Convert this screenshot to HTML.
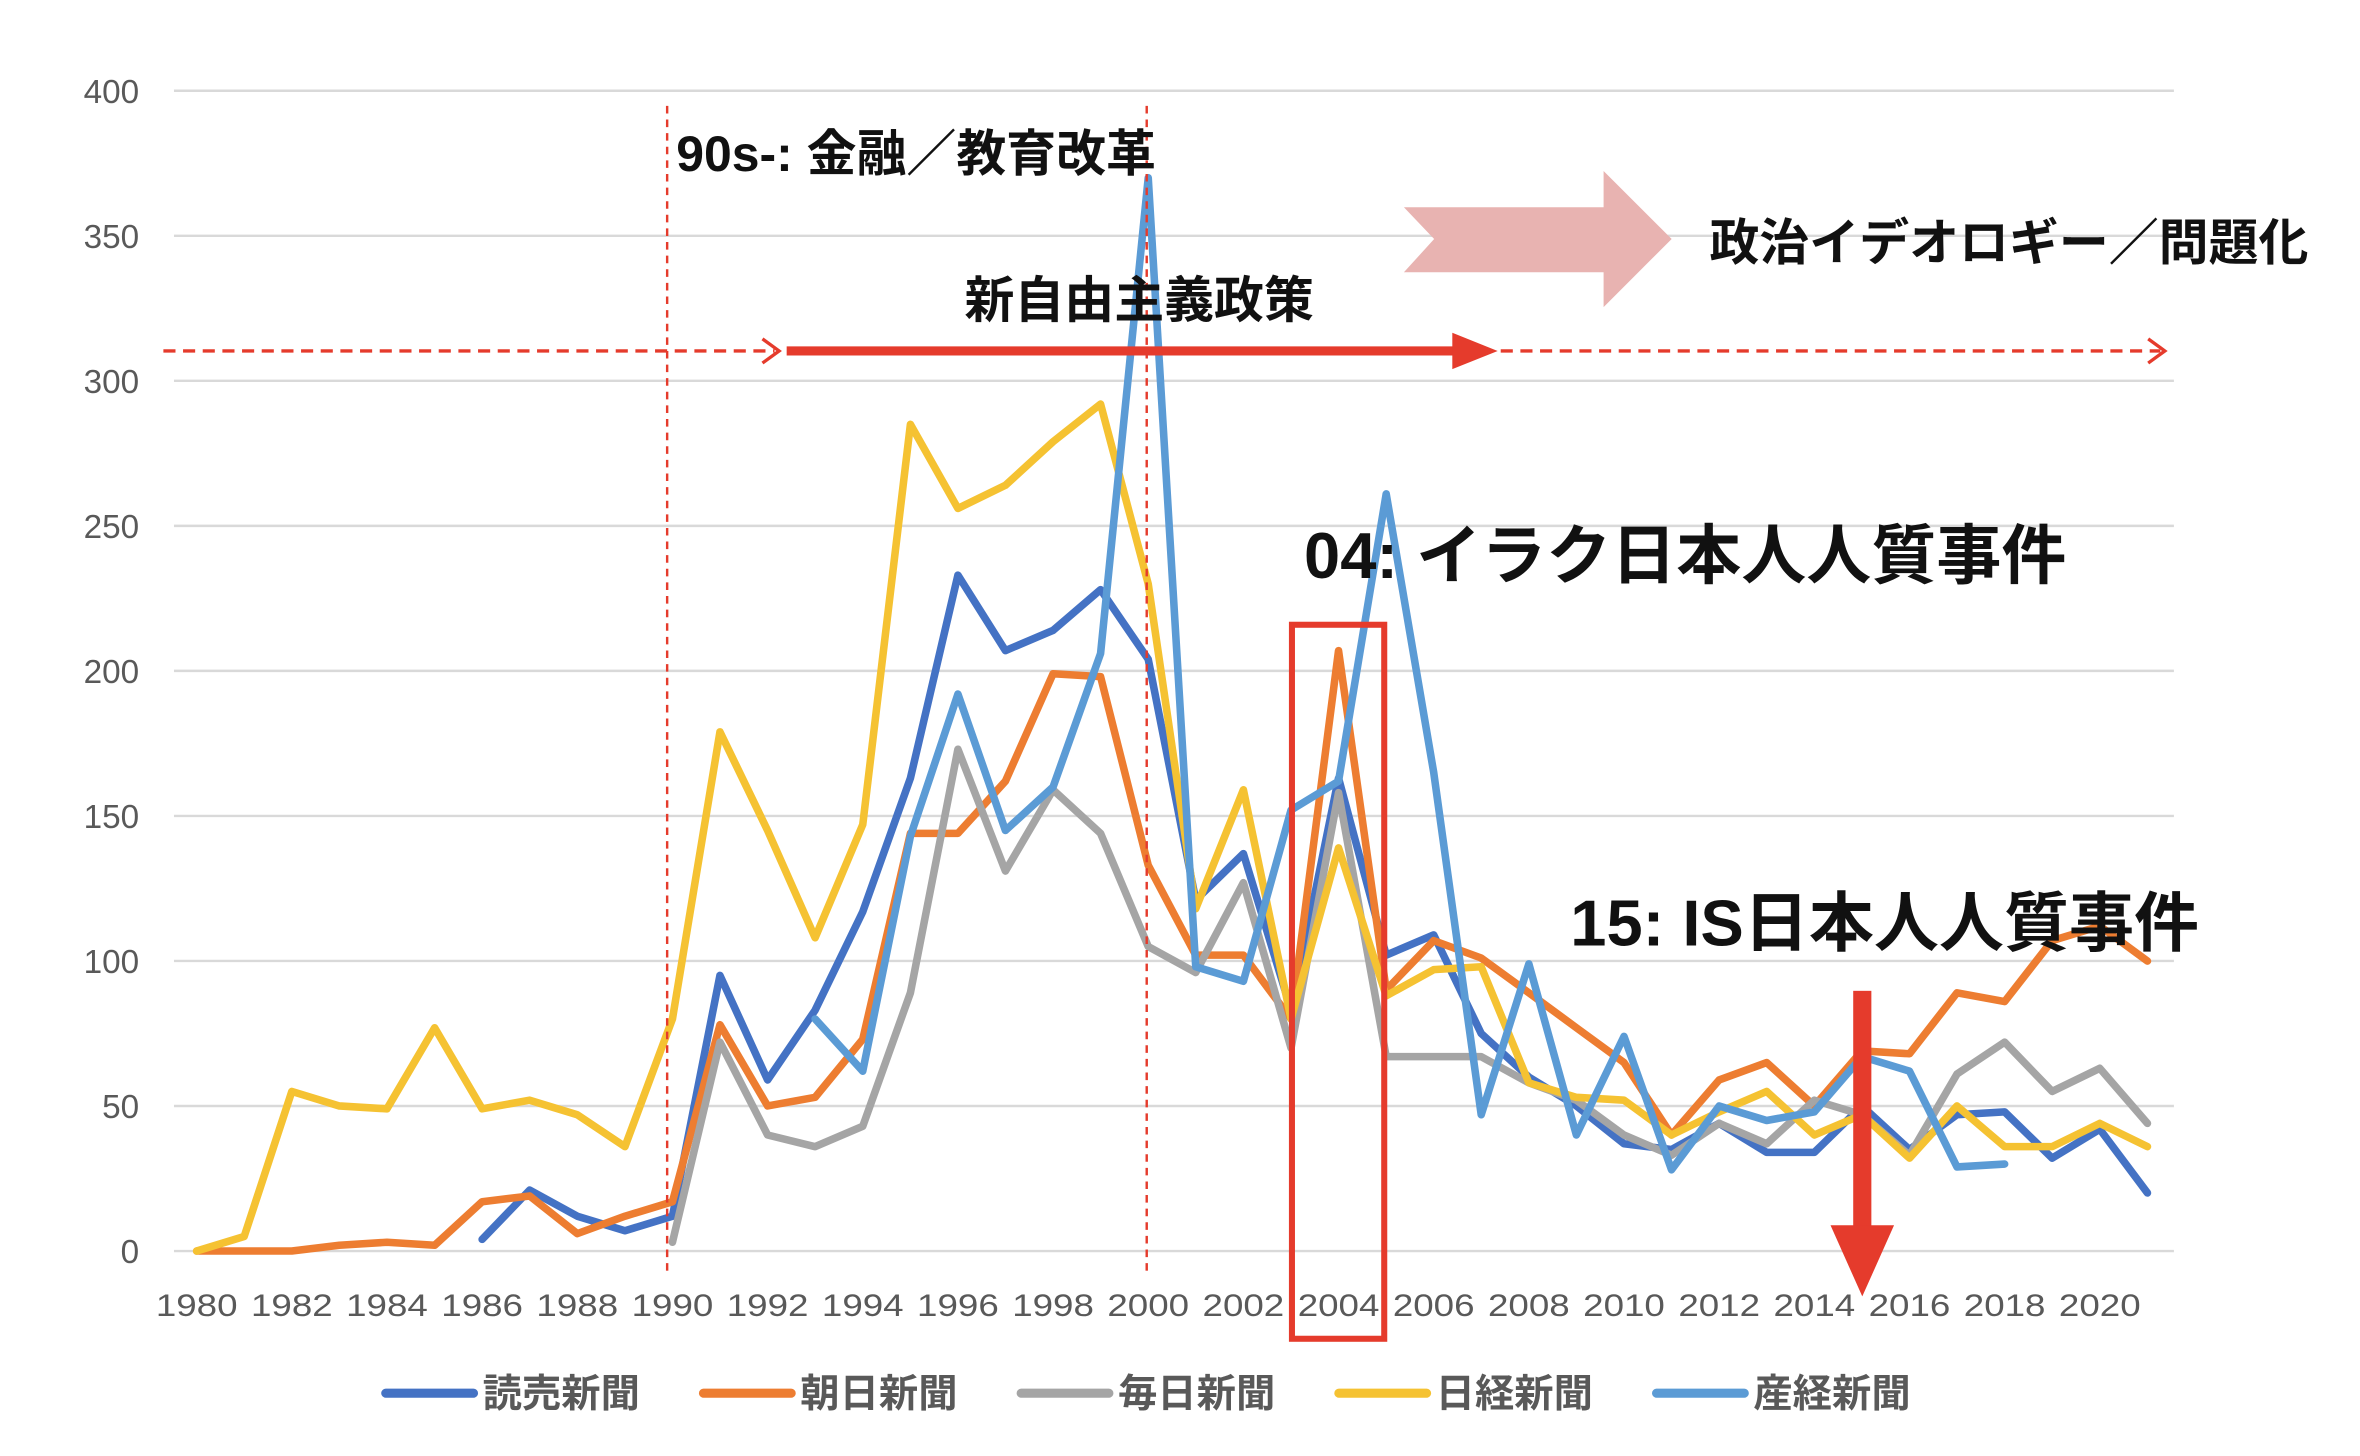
<!DOCTYPE html>
<html><head><meta charset="utf-8"><style>
html,body{margin:0;padding:0;background:#fff;}
svg{display:block;}
text{font-family:"Liberation Sans","Noto Sans CJK JP",sans-serif;}
</style></head><body>
<svg id="chart" width="2360" height="1456" viewBox="0 0 1560 962.5" preserveAspectRatio="none" xmlns="http://www.w3.org/2000/svg">
<g id="grid"></g>
<g id="yticks"></g>
<g id="xticks"></g>
<g id="series"></g>
<g id="annot">
  <line x1="441" y1="70" x2="441" y2="840" stroke="#e53b2c" stroke-width="1.6" stroke-dasharray="5,4"/>
  <line x1="758" y1="70" x2="758" y2="840" stroke="#e53b2c" stroke-width="1.6" stroke-dasharray="5,4"/>
  <line x1="108" y1="232" x2="512" y2="232" stroke="#e53b2c" stroke-width="2.2" stroke-dasharray="8,5"/>
  <polyline points="504,224 515,232 504,240" fill="none" stroke="#e53b2c" stroke-width="2.2"/>
  <line x1="520" y1="232" x2="965" y2="232" stroke="#e53b2c" stroke-width="6"/>
  <polygon points="960,220 990,232 960,244" fill="#e53b2c"/>
  <line x1="992" y1="232" x2="1428" y2="232" stroke="#e53b2c" stroke-width="2.2" stroke-dasharray="8,5"/>
  <polyline points="1420,224 1431,232 1420,240" fill="none" stroke="#e53b2c" stroke-width="2.2"/>
  <text x="447" y="113" font-size="33" font-weight="bold" fill="#111">90s-: 金融／教育改革</text>
  <text x="753" y="210" font-size="33" font-weight="bold" fill="#111" text-anchor="middle">新自由主義政策</text>
  <polygon points="928,137 1060,137 1060,113 1105,158 1060,203 1060,180 928,180 948,158" fill="#e8b3b1"/>
  <text x="1130" y="172" font-size="33" font-weight="bold" fill="#111">政治イデオロギー／問題化</text>
  <text x="862" y="382" font-size="43" font-weight="bold" fill="#111">04: イラク日本人人質事件</text>
  <rect x="854" y="413" width="61" height="472" fill="none" stroke="#e53b2c" stroke-width="4"/>
  <text x="1038" y="625" font-size="43" font-weight="bold" fill="#111">15: IS日本人人質事件</text>
  <rect x="1225" y="655" width="12" height="158" fill="#e53b2c"/>
  <polygon points="1210,810 1252,810 1231,857" fill="#e53b2c"/>
</g>
<g id="legend"></g>
</svg>
<script>
const years = [];
for (let y = 1980; y <= 2021; y++) years.push(y);
const yTicks = [0, 50, 100, 150, 200, 250, 300, 350, 400];
const xTickYears = [1980,1982,1984,1986,1988,1990,1992,1994,1996,1998,2000,2002,2004,2006,2008,2010,2012,2014,2016,2018,2020];
const seriesNames = ["読売新聞","朝日新聞","毎日新聞","日経新聞","産経新聞"];
const seriesColors = ["#4472C4","#ED7D31","#A5A5A5","#F5C232","#5B9BD5"];
const yomiuri = [null,null,null,null,null,null,4,21,12,7,12,95,59,83,117,163,233,207,214,228,204,121,137,83,163,102,109,75,60,50,37,35,44,34,34,50,35,47,48,32,42,20];
const asahi = [0,0,0,2,3,2,17,19,6,12,17,78,50,53,73,144,144,162,199,198,133,102,102,80,207,90,107,101,89,77,65,40,59,65,50,69,68,89,86,107,112,100];
const mainichi = [null,null,null,null,null,null,null,null,null,null,3,72,40,36,43,89,173,131,159,144,105,96,127,70,158,67,67,67,58,52,40,33,44,37,52,47,33,61,72,55,63,44];
const nikkei = [0,5,55,50,49,77,49,52,47,36,80,179,145,108,147,285,256,264,279,292,230,118,159,80,139,88,97,98,58,53,52,40,48,55,40,47,32,50,36,36,44,36];
const sankei = [null,null,null,null,null,null,null,null,null,null,null,null,null,80,62,143,192,145,160,206,370,98,93,152,162,261,165,47,99,40,74,28,50,45,48,67,62,29,30,null,null,null];
const allSeries = [yomiuri, asahi, mainichi, nikkei, sankei];

const NS = "http://www.w3.org/2000/svg";
const xScale = yr => 130 + (yr - 1980) * 31.45;
const yScale = v => 827 - v * 1.9175;
function mk(tag, attrs, parent) {
  const e = document.createElementNS(NS, tag);
  for (const k in attrs) e.setAttribute(k, attrs[k]);
  parent.appendChild(e);
  return e;
}
const grid = document.getElementById('grid');
const yt = document.getElementById('yticks');
yTicks.forEach(v => {
  const l = mk('line', {x1:115, x2:1437, y1:yScale(v), y2:yScale(v), stroke:'#d9d9d9', 'stroke-width':1.6}, grid);
  
  
  const t = mk('text', {x:92, y:yScale(v)+8, 'font-size':22, fill:'#595959', 'text-anchor':'end'}, yt);
  t.textContent = v;
  
  
});
const xt = document.getElementById('xticks');
xTickYears.forEach(yr => {
  const t = mk('text', {x:xScale(yr), y:870, 'font-size':21, fill:'#595959', 'text-anchor':'middle', 'textLength':54, 'lengthAdjust':'spacingAndGlyphs'}, xt);
  t.textContent = yr;
  
  
});
const sg = document.getElementById('series');
allSeries.forEach((data, si) => {
  let segs = [], cur = [];
  data.forEach((v, i) => {
    if (v === null) { if (cur.length) segs.push(cur); cur = []; }
    else cur.push(xScale(years[i]).toFixed(1) + ',' + yScale(v).toFixed(1));
  });
  if (cur.length) segs.push(cur);
  segs.forEach(s => {
    const p = mk('polyline', {points:s.join(' '), fill:'none', stroke:seriesColors[si], 'stroke-width':5, 'stroke-linejoin':'round', 'stroke-linecap':'round'}, sg);
    
    
  });
});
const lg = document.getElementById('legend');
const legendX = [255, 465, 675, 885, 1095];
seriesNames.forEach((n, i) => {
  const l = mk('line', {x1:legendX[i], x2:legendX[i]+58, y1:921, y2:921, stroke:seriesColors[i], 'stroke-width':6, 'stroke-linecap':'round'}, lg);
  
  
  const t = mk('text', {x:legendX[i]+64, y:930, 'font-size':26, 'font-weight':'bold', fill:'#595959'}, lg);
  t.textContent = n;
  
  
});
</script>
</body></html>
